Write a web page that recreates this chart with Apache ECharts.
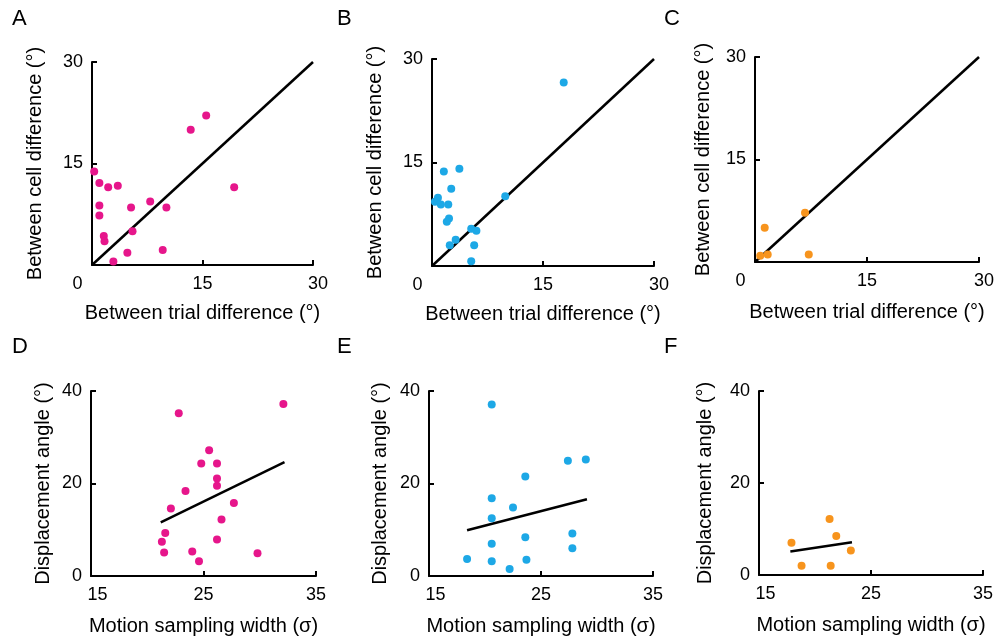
<!DOCTYPE html>
<html>
<head>
<meta charset="utf-8">
<script src="https://cdn.jsdelivr.net/npm/echarts@6/dist/echarts.min.js"></script>
<style>
  html, body { margin: 0; padding: 0; background: #fff; }
  #main { width: 1000px; height: 642px; }
</style>
</head>
<body>
<div id="main"></div>
<script>
// panel A-C: between trial vs between cell difference
var trialA = [0.3, 1.0, 2.2, 3.5, 1.0, 1.0, 1.6, 1.7, 2.9, 4.8, 5.5, 5.3, 7.9, 10.1, 9.6, 13.4, 15.5, 19.3];
var cellA  = [13.8, 12.1, 11.5, 11.7, 8.8, 7.3, 4.3, 3.5, 0.5, 1.8, 5.0, 8.5, 9.4, 8.5, 2.2, 20.0, 22.1, 11.5];
var trialB = [0.4, 0.8, 1.2, 1.6, 3.7, 2.6, 2.2, 2.3, 2.0, 2.4, 3.2, 5.3, 6.0, 5.7, 5.3, 9.9, 17.8];
var cellB  = [9.3, 9.9, 8.9, 13.7, 14.1, 11.2, 8.9, 6.9, 6.4, 3.0, 3.8, 5.4, 5.1, 3.0, 0.7, 10.1, 26.6];
var trialC = [0.7, 1.7, 1.3, 6.7, 7.2];
var cellC  = [0.9, 1.1, 5.0, 7.2, 1.1];
var diagX = [0, 30];
var diagY = [0, 30];

// panel D-F: motion sampling width vs displacement angle
var widthD = [22.8, 32.1, 25.5, 24.8, 26.2, 26.2, 26.2, 23.4, 22.1, 27.7, 26.6, 21.6, 21.3, 21.5, 24.0, 24.6, 26.2, 29.8];
var angleD = [35.2, 37.2, 27.2, 24.3, 24.3, 21.1, 19.5, 18.4, 14.6, 15.8, 12.2, 9.3, 7.4, 5.1, 5.3, 3.2, 7.9, 4.9];
var fitDx = [21.2, 32.2], fitDy = [11.6, 24.6];
var widthE = [20.6, 27.4, 29.0, 23.6, 20.6, 22.5, 20.6, 20.6, 23.6, 27.8, 27.8, 18.4, 20.6, 23.7, 22.2];
var angleE = [37.1, 24.9, 25.2, 21.5, 16.8, 14.8, 12.5, 7.0, 8.4, 9.2, 6.0, 3.7, 3.2, 3.5, 1.5];
var fitEx = [18.4, 29.1], fitEy = [9.9, 16.6];
var widthF = [17.9, 18.8, 21.3, 21.4, 21.9, 23.2];
var angleF = [7.0, 2.0, 12.2, 2.0, 8.5, 5.3];
var fitFx = [17.8, 23.3], fitFy = [5.1, 7.1];

var diffTicks = [0, 15, 30];
var widthTicks = [15, 25, 35];
var angleTicks = [0, 20, 40];

var pink = '#E6168B', blue = '#1DA8E6', orange = '#F7941D';
var FONT = "'Liberation Sans', Arial, sans-serif";

function zip(a, b) { return a.map(function (v, i) { return [v, b[i]]; }); }

var grids = [
  { left: 92, top: 62, width: 221, height: 203 },
  { left: 432, top: 59, width: 222, height: 207 },
  { left: 755, top: 57, width: 224, height: 205 },
  { left: 91, top: 391, width: 225, height: 185 },
  { left: 429, top: 391, width: 224, height: 185 },
  { left: 759, top: 391, width: 224, height: 184 }
];

var axisLine = { lineStyle: { color: '#000', width: 2 } };
var axisTick = { inside: true, length: 5, lineStyle: { color: '#000', width: 2 } };
var rich = {
  l: { fontSize: 18, fontFamily: FONT, color: '#000', padding: [0, 29, 0, 0] },
  r: { fontSize: 18, fontFamily: FONT, color: '#000', padding: [0, 0, 0, 10] },
  s: { fontSize: 18, fontFamily: FONT, color: '#000', padding: [0, 0, 0, 13] }
};

function xAxisFor(i, ticks, name, gap) {
  var top = i < 3;
  return {
    gridIndex: i, type: 'value',
    min: ticks[0], max: ticks[2], interval: ticks[1] - ticks[0],
    name: name, nameLocation: 'middle', nameGap: gap,
    nameTextStyle: { fontSize: 20, fontFamily: FONT, color: '#000' },
    axisLine: axisLine, axisTick: axisTick, splitLine: { show: false },
    axisLabel: {
      margin: 10, fontSize: 18, fontFamily: FONT, color: '#000', rich: rich,
      formatter: function (v) {
        if (top && v === ticks[0]) return '{l|' + v + '}';
        if (top && v === ticks[2]) return '{r|' + v + '}';
        if (!top && v === ticks[0]) return '{s|' + v + '}';
        return String(v);
      }
    }
  };
}

function yAxisFor(i, ticks, name, gap) {
  var top = i < 3;
  return {
    gridIndex: i, type: 'value',
    min: ticks[0], max: ticks[2], interval: ticks[1] - ticks[0],
    name: name, nameLocation: 'middle', nameGap: gap,
    nameTextStyle: { fontSize: 20, fontFamily: FONT, color: '#000' },
    axisLine: axisLine, axisTick: axisTick, splitLine: { show: false },
    axisLabel: {
      margin: 9, fontSize: 18, fontFamily: FONT, color: '#000',
      formatter: function (v) { return (top && v === 0) ? '' : String(v); }
    }
  };
}

var trialName = 'Between trial difference (°)';
var cellName = 'Between cell difference (°)';
var widthName = 'Motion sampling width (σ)';
var angleName = 'Displacement angle (°)';

var xAxes = [
  xAxisFor(0, diffTicks, trialName, 38),
  xAxisFor(1, diffTicks, trialName, 38),
  xAxisFor(2, diffTicks, trialName, 40),
  xAxisFor(3, widthTicks, widthName, 40),
  xAxisFor(4, widthTicks, widthName, 40),
  xAxisFor(5, widthTicks, widthName, 40)
];
var yAxes = [
  yAxisFor(0, diffTicks, cellName, 47),
  yAxisFor(1, diffTicks, cellName, 47),
  yAxisFor(2, diffTicks, cellName, 42),
  yAxisFor(3, angleTicks, angleName, 38),
  yAxisFor(4, angleTicks, angleName, 39),
  yAxisFor(5, angleTicks, angleName, 44)
];

function lineSeries(i, xs, ys) {
  return {
    type: 'line', xAxisIndex: i, yAxisIndex: i, data: zip(xs, ys),
    symbol: 'none', silent: true, animation: false,
    lineStyle: { color: '#000', width: 2.5 }, z: 2
  };
}
function dotSeries(i, xs, ys, color) {
  return {
    type: 'scatter', xAxisIndex: i, yAxisIndex: i, data: zip(xs, ys),
    symbolSize: 8, itemStyle: { color: color, opacity: 1 }, animation: false, z: 3
  };
}

var letters = ['A', 'B', 'C', 'D', 'E', 'F'];
var letterPos = [[12, 8], [337, 8], [664, 8], [12, 336], [337, 336], [664, 336]];

var option = {
  backgroundColor: '#fff',
  animation: false,
  title: letters.map(function (t, i) {
    return { text: t, left: letterPos[i][0], top: letterPos[i][1], padding: 0,
      textStyle: { fontSize: 22, fontWeight: 'normal', fontFamily: FONT, color: '#000' } };
  }),
  grid: grids,
  xAxis: xAxes,
  yAxis: yAxes,
  series: [
    lineSeries(0, diagX, diagY), dotSeries(0, trialA, cellA, pink),
    lineSeries(1, diagX, diagY), dotSeries(1, trialB, cellB, blue),
    lineSeries(2, diagX, diagY), dotSeries(2, trialC, cellC, orange),
    lineSeries(3, fitDx, fitDy), dotSeries(3, widthD, angleD, pink),
    lineSeries(4, fitEx, fitEy), dotSeries(4, widthE, angleE, blue),
    lineSeries(5, fitFx, fitFy), dotSeries(5, widthF, angleF, orange)
  ]
};

var chart = echarts.init(document.getElementById('main'));
chart.setOption(option);
</script>
</body>
</html>
